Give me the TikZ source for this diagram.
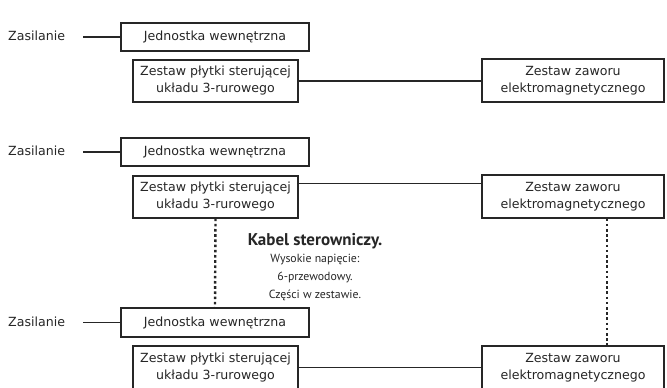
\documentclass[tikz,border=0pt]{standalone}
\usepackage{fontspec}
\setmainfont{DejaVu Sans}
\newfontfamily\titlefont{PT Sans}
\usetikzlibrary{calc}
\definecolor{ink}{HTML}{262626}
\tikzset{
  box/.style={draw=ink, line width=1.2pt, fill=white, inner sep=0pt, align=center, text=ink,
    font=\fontsize{12.6}{17}\selectfont},
  lbl/.style={text=ink, inner sep=0pt, font=\fontsize{12.6}{17}\selectfont},
  wire/.style={draw=ink, line width=1.1pt},
  dots/.style={draw=ink, line width=2.4pt, dash pattern=on 2.6pt off 2.6pt},
}
\begin{document}
\begin{tikzpicture}[x=1pt,y=-1pt]
\useasboundingbox (0,0) rectangle (667,388);
% group 1
\node[box, minimum width=188, minimum height=28] (j1) at (215,37) {Jednostka wewnętrzna};
\node[box, minimum width=165, minimum height=42] (z1) at (215.5,81) {Zestaw płytki sterującej\\układu 3-rurowego};
\node[box, minimum width=182, minimum height=43] (v1) at (573,80.5) {Zestaw zaworu\\elektromagnetycznego};
\node[lbl, anchor=west] (s1) at (8,36) {Zasilanie};
\coordinate (c1) at (83,37);
\draw[wire] (c1) -- (j1.west);
\draw[wire] (z1.east) -- (z1.east -| v1.west);
% group 2
\node[box, minimum width=188, minimum height=28] (j2) at (215,152) {Jednostka wewnętrzna};
\node[box, minimum width=165, minimum height=42] (z2) at (215.5,197) {Zestaw płytki sterującej\\układu 3-rurowego};
\node[box, minimum width=182, minimum height=43] (v2) at (573,196.5) {Zestaw zaworu\\elektromagnetycznego};
\node[lbl, anchor=west] (s2) at (8,151) {Zasilanie};
\coordinate (c2) at (83,152);
\draw[wire] (c2) -- (j2.west);
\coordinate (z2r) at ($(z2.north east)+(0,8)$);
\draw[wire] (z2r) -- (z2r -| v2.west);
% group 3
\node[box, minimum width=188, minimum height=29] (j3) at (215,322.5) {Jednostka wewnętrzna};
\node[box, minimum width=165, minimum height=43] (z3) at (215.5,367.5) {Zestaw płytki sterującej\\układu 3-rurowego};
\node[box, minimum width=182, minimum height=43] (v3) at (573,367.5) {Zestaw zaworu\\elektromagnetycznego};
\node[lbl, anchor=west] (s3) at (8,322) {Zasilanie};
\coordinate (c3) at (83,322.5);
\draw[wire] (c3) -- (j3.west);
\draw[wire] (z3.east) -- (z3.east -| v3.west);
% dotted cables
\draw[dots] (z2.south) -- (j3.north);
\draw[dots] (v2.south -| 607,0) -- (v3.north -| 607,0);
% label
\node[text=ink, inner sep=0pt, font=\titlefont\fontsize{17}{18}\selectfont\bfseries] (k) at (315,241) {Kabel sterowniczy.};
\node[text=ink, inner sep=0pt, align=center, font=\titlefont\fontsize{11.8}{18}\selectfont, anchor=north] (kt) at (315,254) {Wysokie napięcie:\\6-przewodowy.\\Części w zestawie.};
\end{tikzpicture}
\end{document}
